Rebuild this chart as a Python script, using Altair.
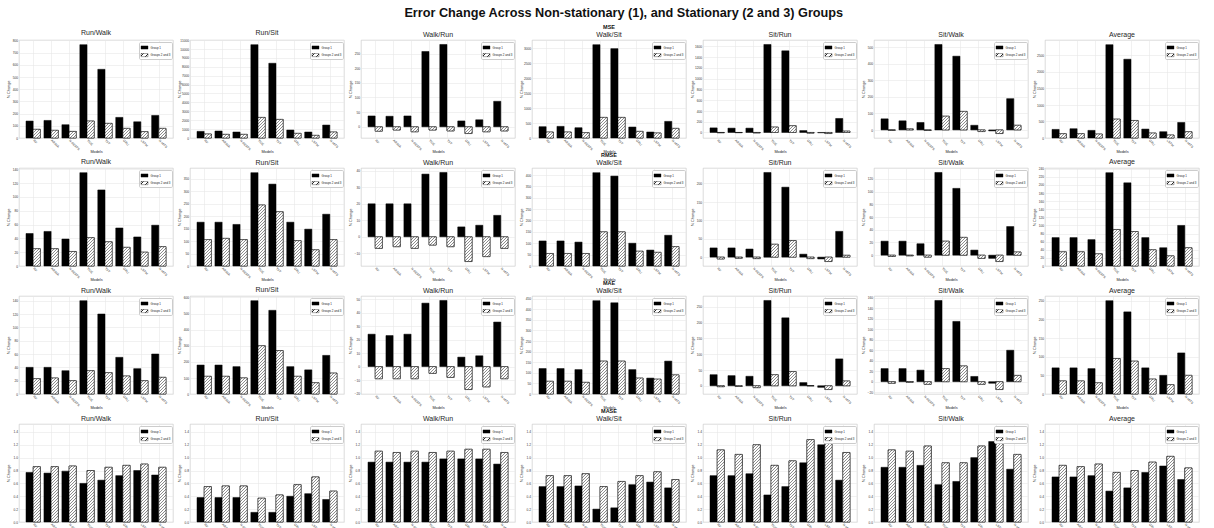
import json
import math
import altair as alt
import pandas as pd

# ---------------------------------------------------------------- data
models = ["RF", "ARIMA", "N-BEATS", "TiDE", "TFT", "GRU", "LSTM", "N-HiTS"]
groups = ["Group 1", "Groups 2 and 3"]
pairs = ["Run/Walk", "Run/Sit", "Walk/Run", "Walk/Sit", "Sit/Run", "Sit/Walk", "Average"]
metrics = ["MSE", "RMSE", "MAE", "MASE"]

mse_group1 = {
    "Run/Walk": [139, 144, 109, 765, 563, 169, 133, 185],
    "Run/Sit": [746, 784, 672, 10485, 8396, 896, 672, 1455],
    "Walk/Run": [37, 36, 37, 257, 281, 20, 24, 87],
    "Walk/Sit": [378, 389, 344, 3122, 2989, 367, 200, 556],
    "Sit/Run": [85, 80, 80, 1633, 1515, 35, -6, 260],
    "Sit/Walk": [67, 55, 45, 517, 446, 28, -6, 189],
    "Average": [260, 280, 230, 2820, 2380, 270, 190, 470],
}
mse_group2 = {
    "Run/Walk": [71, 63, 54, 139, 120, 79, 52, 79],
    "Run/Sit": [448, 410, 410, 2313, 2090, 522, 298, 672],
    "Walk/Run": [-15, -11, -17, -11, -14, -23, -17, -14],
    "Walk/Sit": [200, 200, 178, 689, 689, 222, 167, 322],
    "Sit/Run": [-5, -3, -8, 100, 125, -12, -20, 25],
    "Sit/Walk": [-2, 6, -3, 83, 112, -10, -22, 28],
    "Average": [130, 130, 120, 570, 530, 150, 90, 190],
}

rmse_group1 = {
    "Run/Walk": [47, 50, 39, 135, 110, 55, 42, 59],
    "Run/Sit": [176, 176, 167, 375, 329, 176, 148, 208],
    "Walk/Run": [20, 20, 20, 38, 39, 6, 7, 13],
    "Walk/Sit": [110, 110, 105, 410, 395, 100, 70, 135],
    "Sit/Run": [25, 25, 22, 230, 190, 8, -5, 70],
    "Sit/Walk": [22, 22, 18, 130, 105, 8, -5, 45],
    "Average": [70, 70, 65, 230, 205, 70, 45, 100],
}
rmse_group2 = {
    "Run/Walk": [25, 25, 21, 41, 35, 27, 20, 28],
    "Run/Sit": [106, 111, 106, 245, 218, 102, 65, 106],
    "Walk/Run": [-7, -6, -7, -5, -6, -15, -12, -7],
    "Walk/Sit": [55, 55, 55, 150, 150, 65, 60, 85],
    "Sit/Run": [-5, -3, -4, 35, 45, -4, -12, 5],
    "Sit/Walk": [-2, -1, -3, 22, 28, -5, -10, 5],
    "Average": [35, 35, 30, 90, 85, 40, 25, 45],
}

mae_group1 = {
    "Run/Walk": [40, 40, 35, 140, 120, 55, 38, 60],
    "Run/Sit": [180, 180, 170, 580, 520, 170, 150, 240],
    "Walk/Run": [24, 23, 24, 47, 49, 7, 8, 33],
    "Walk/Sit": [120, 120, 115, 440, 430, 115, 75, 155],
    "Sit/Run": [35, 32, 30, 270, 215, 10, -5, 85],
    "Sit/Walk": [25, 25, 22, 155, 115, 10, -3, 60],
    "Average": [70, 70, 68, 250, 220, 70, 50, 110],
}
mae_group2 = {
    "Run/Walk": [23, 24, 20, 35, 32, 27, 20, 25],
    "Run/Sit": [110, 110, 100, 300, 270, 110, 70, 130],
    "Walk/Run": [-9, -9, -9, -5, -8, -17, -15, -9],
    "Walk/Sit": [60, 60, 55, 155, 155, 75, 70, 90],
    "Sit/Run": [-3, -2, -6, 35, 45, 0, -12, 15],
    "Sit/Walk": [-3, -1, -5, 25, 30, -5, -15, 12],
    "Average": [35, 35, 30, 95, 88, 40, 25, 50],
}

mase_group1 = {
    "Run/Walk": [0.77, 0.76, 0.79, 0.60, 0.65, 0.72, 0.80, 0.73],
    "Run/Sit": [0.38, 0.38, 0.38, 0.15, 0.15, 0.40, 0.44, 0.35],
    "Walk/Run": [0.93, 0.93, 0.93, 0.93, 0.98, 0.98, 0.98, 0.90],
    "Walk/Sit": [0.55, 0.55, 0.56, 0.20, 0.22, 0.58, 0.62, 0.53],
    "Sit/Run": [0.72, 0.72, 0.75, 0.42, 0.55, 0.92, 1.20, 0.65],
    "Sit/Walk": [0.85, 0.85, 0.88, 0.58, 0.63, 1.00, 1.25, 0.82],
    "Average": [0.70, 0.70, 0.72, 0.48, 0.53, 0.77, 0.87, 0.66],
}
mase_group2 = {
    "Run/Walk": [0.86, 0.86, 0.87, 0.80, 0.85, 0.88, 0.90, 0.85],
    "Run/Sit": [0.55, 0.56, 0.56, 0.37, 0.42, 0.58, 0.70, 0.48],
    "Walk/Run": [1.10, 1.08, 1.10, 1.08, 1.10, 1.13, 1.13, 1.08],
    "Walk/Sit": [0.72, 0.72, 0.75, 0.55, 0.63, 0.72, 0.78, 0.66],
    "Sit/Run": [1.12, 1.05, 1.20, 0.88, 0.95, 1.28, 1.45, 1.08],
    "Sit/Walk": [1.12, 1.10, 1.18, 0.92, 0.92, 1.18, 1.30, 1.05],
    "Average": [0.88, 0.86, 0.90, 0.77, 0.80, 0.93, 1.02, 0.84],
}

series = {
    "MSE": (mse_group1, mse_group2),
    "RMSE": (rmse_group1, rmse_group2),
    "MAE": (mae_group1, mae_group2),
    "MASE": (mase_group1, mase_group2),
}

# ---------------------------------------------------------------- layout
FONT = "Liberation Sans"
PW, PH = 154, 98             # plot area of one panel
BAR = 0.4                    # bar width in category units, two bars per model
X_DOM = [-0.79, len(models) - 1 + 0.79]
HATCH_STEP = 3.0             # px between hatch lines


def legend_hatch(uid, w=7.0, h=3.2, period=2.4, line=0.55, ink="#2b2b2b"):
    """Gradient expression giving the legend swatch its '/' hatching."""
    gx, gy = 1.0 / h, 1.0 / w
    k = (gx + gy) / (gx * gx + gy * gy)
    span = w + h
    stops, c = [], 0.0
    while c < span:
        a, b = c / span, min(1.0, (c + line) / span)
        e = min(1.0, (c + period) / span)
        stops += [{"offset": round(a, 4), "color": ink},
                  {"offset": round(b, 4), "color": ink},
                  {"offset": round(b, 4), "color": "white"},
                  {"offset": round(e, 4), "color": "white"}]
        c += period
    grad = {"id": uid, "gradient": "linear", "x1": 0, "y1": 0,
            "x2": round(gx * k, 5), "y2": round(gy * k, 5), "stops": stops}
    return alt.ExprRef(json.dumps(grad))


def hatch_lines(xa, xb, v, dom):
    """45-degree hatch segments (in data units) filling the bar [xa, xb] x [0, v]."""
    sx = PW / (X_DOM[1] - X_DOM[0])
    sy = PH / (dom[1] - dom[0])
    Xa, Xb = (xa - X_DOM[0]) * sx, (xb - X_DOM[0]) * sx
    Ya, Yb = (min(0, v) - dom[0]) * sy, (max(0, v) - dom[0]) * sy
    out = []
    c = math.floor((Ya - Xb) / HATCH_STEP) * HATCH_STEP
    while c <= Yb - Xa:
        X1, X2 = max(Xa, Ya - c), min(Xb, Yb - c)
        if X2 - X1 > 0.05:
            out.append({"hx": X1 / sx + X_DOM[0], "hy": (X1 + c) / sy + dom[0],
                        "hx2": X2 / sx + X_DOM[0], "hy2": (X2 + c) / sy + dom[0]})
        c += HATCH_STEP
    return out


def y_domain(values):
    lo, hi = min(0, min(values)), max(0, max(values))
    rng = hi - lo
    return [lo - 0.05 * rng if lo < 0 else 0, hi + 0.05 * rng]


mase_all = [v for g in (mase_group1, mase_group2) for s in g.values() for v in s]
mase_dom = [0, max(mase_all) * 1.05]
label_expr = json.dumps(models) + "[round(datum.value)]"


def panel(r, metric, c, pair):
    g1, g2 = series[metric][0][pair], series[metric][1][pair]
    dom = mase_dom if metric == "MASE" else y_domain(g1 + g2)
    idx = list(range(len(models)))
    df = pd.DataFrame({
        "model": models * 2,
        "group": [groups[0]] * len(models) + [groups[1]] * len(models),
        "x0": [i - BAR for i in idx] + idx,
        "x1": idx + [i + BAR for i in idx],
        "value": g1 + g2,
        "base": [0.0] * (2 * len(models)),
    })
    hatched = df[df["group"] == groups[1]]
    lines = pd.DataFrame([seg for _, row in hatched.iterrows()
                          for seg in hatch_lines(row.x0, row.x1, row.value, dom)])

    xscale = alt.Scale(domain=X_DOM, nice=False, zero=False)
    yscale = alt.Scale(domain=dom, nice=False, zero=False)
    xaxis = alt.Axis(values=idx, labelExpr=label_expr, labelAngle=45,
                     labelAlign="left", labelBaseline="middle", titleY=11.5)
    yaxis = alt.Axis(tickCount=8, titleX=-8.5,
                     format=".1f" if metric == "MASE" else "~r")

    def xy(xf, x2f, yf, y2f):
        return dict(
            x=alt.X(f"{xf}:Q", scale=xscale, axis=xaxis, title="Models"),
            x2=alt.X2(x2f),
            y=alt.Y(f"{yf}:Q", scale=yscale, axis=yaxis, title="% Change"),
            y2=alt.Y2(y2f),
        )

    bars = alt.Chart(df).mark_rect(stroke="black", strokeWidth=0.5).encode(
        **xy("x0", "x1", "value", "base"),
        color=alt.Color(
            "group:N", sort=groups,
            scale=alt.Scale(domain=groups,
                            range=["black", legend_hatch(f"legend_hatch_{r}_{c}")]),
            legend=alt.Legend(
                title=None, orient="top-right", offset=1.5, padding=1.5,
                fillColor="white", strokeColor="#cccccc", cornerRadius=1.2,
                labelFont=FONT, labelFontSize=2.9, labelColor="#222222",
                symbolType="M-1,-0.45H1V0.45H-1Z", symbolSize=49,
                symbolStrokeColor="black", symbolStrokeWidth=0.35,
                rowPadding=0.6, labelOffset=2)),
    )
    blank = alt.Chart(hatched).mark_rect(fill="white", strokeWidth=0).encode(
        **xy("x0", "x1", "value", "base"))
    hatch = alt.Chart(lines).mark_rule(color="#2b2b2b", strokeWidth=0.55).encode(
        **xy("hx", "hx2", "hy", "hy2"))
    outline = alt.Chart(hatched).mark_rect(
        fill="white", fillOpacity=0, stroke="black", strokeWidth=0.5
    ).encode(**xy("x0", "x1", "value", "base"))

    if pair == "Walk/Sit":
        title = alt.TitleParams(metric, subtitle=pair, fontSize=5.5, fontWeight="bold",
                                font=FONT, color="#111111", subtitleFont=FONT,
                                subtitleFontSize=7, subtitleColor="#262626",
                                subtitlePadding=0.5, offset=2, anchor="middle")
    else:
        title = alt.TitleParams(pair, fontSize=7, fontWeight="normal", font=FONT,
                                color="#262626", offset=2, anchor="middle")

    return alt.layer(bars, blank, hatch, outline).properties(
        width=PW, height=PH, title=title)


panels = [panel(r, m, c, p) for r, m in enumerate(metrics) for c, p in enumerate(pairs)]

chart = alt.ConcatChart(
    concat=panels, columns=7, spacing={"row": 30, "column": 17}, bounds="flush",
).resolve_scale(color="independent").resolve_legend(color="independent").properties(
    title=alt.TitleParams(
        "Error Change Across Non-stationary (1), and Stationary (2 and 3) Groups",
        fontSize=12.7, fontWeight="bold", font=FONT, color="#111111",
        anchor="middle", offset=5, dx=21),
    padding={"left": 6, "top": 6, "right": 5, "bottom": 5},
    background="white",
).configure_view(
    stroke="#cccccc", strokeWidth=0.7,
).configure_axis(
    labelFont=FONT, titleFont=FONT, labelFontSize=3.2, titleFontSize=3.8,
    titleFontWeight="normal", labelColor="#333333", titleColor="#222222",
    gridColor="#e8e8e8", gridWidth=0.6, domain=False, ticks=False,
    labelPadding=1.5, titlePadding=2,
)

chart.save("out.html", embed_options={"renderer": "svg", "actions": False})
